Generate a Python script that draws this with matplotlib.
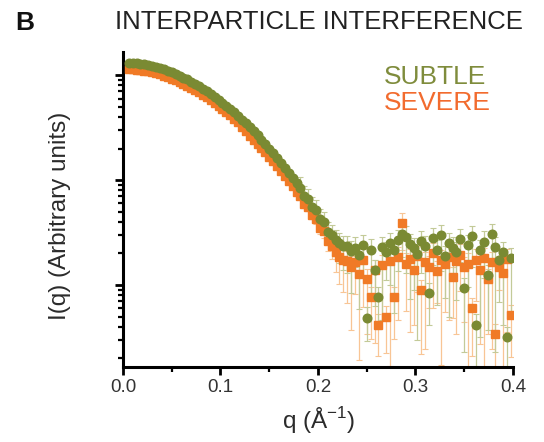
import numpy as np
import matplotlib
matplotlib.use("Agg")
from matplotlib import pyplot as plt
from matplotlib.ticker import LogLocator, MultipleLocator, NullFormatter

plt.rcParams['font.family'] = ['Liberation Sans', 'DejaVu Sans']
plt.rcParams['mathtext.fontset'] = 'custom'
plt.rcParams['mathtext.rm'] = 'Liberation Sans'

# q grid (1/A), sampled every 0.004
q = np.round(np.arange(0.006, 0.4, 0.004), 3)

# I(q) (arbitrary units, 1.0 = upper major tick)
subtle = [1.32, 1.32, 1.30, 1.29, 1.27, 1.25, 1.22, 1.20, 1.17, 1.135, 1.10, 1.066, 1.029,
          0.991, 0.951, 0.911, 0.870, 0.829, 0.787, 0.746, 0.705, 0.665, 0.625, 0.586, 0.548, 0.511,
          0.476, 0.442, 0.409, 0.377, 0.347, 0.319, 0.292, 0.267, 0.243, 0.221, 0.200, 0.181, 0.163,
          0.147, 0.1316, 0.1177, 0.105, 0.0935, 0.085, 0.071, 0.0665, 0.0555, 0.0515, 0.0425, 0.0395,
          0.0322, 0.0298, 0.0269, 0.0251, 0.0234,
          0.0235, 0.0212, 0.0228, 0.0195, 0.0240, 0.0049, 0.0218, 0.0140, 0.0077, 0.0232,
          0.0205, 0.0250, 0.0215, 0.0270, 0.0310, 0.0290, 0.0245, 0.0226, 0.0198, 0.0262,
          0.0235, 0.0084, 0.0280, 0.0215, 0.0300, 0.0190, 0.0250, 0.0228, 0.0205, 0.0275,
          0.0093, 0.0240, 0.0295, 0.0042, 0.0215, 0.0260, 0.0125, 0.0305, 0.0230, 0.0172,
          0.0208, 0.0032, 0.0180]
severe = [1.15, 1.15, 1.13, 1.12, 1.106, 1.089, 1.063, 1.045, 1.019, 0.989, 0.958, 0.929, 0.896,
          0.863, 0.828, 0.793, 0.758, 0.722, 0.685, 0.650, 0.614, 0.579, 0.544, 0.510, 0.477, 0.445,
          0.415, 0.385, 0.356, 0.324, 0.295, 0.265, 0.243, 0.222, 0.202, 0.184, 0.166, 0.151, 0.136,
          0.122, 0.1095, 0.098, 0.0874, 0.0778, 0.0705, 0.059, 0.0552, 0.0462, 0.0425, 0.0352, 0.0328,
          0.0262, 0.0236, 0.0205, 0.0185, 0.0172,
          0.0170, 0.0150, 0.0165, 0.0128, 0.0175, 0.0115, 0.0077, 0.0140, 0.0042, 0.0155,
          0.0050, 0.0168, 0.0077, 0.0185, 0.0390, 0.0160, 0.0178, 0.0140, 0.0190, 0.0089,
          0.0165, 0.0150, 0.0200, 0.0135, 0.0172, 0.0158, 0.0185, 0.0120, 0.0170, 0.0195,
          0.0148, 0.0160, 0.0060, 0.0175, 0.0138, 0.0182, 0.0115, 0.0165, 0.0034, 0.0150,
          0.0130, 0.0178, 0.0052]

# relative lower error bars, from point 44 (q = 0.182) on
subtle_lo = [0.05, 0.06, 0.06, 0.08, 0.08, 0.10, 0.10, 0.15, 0.20, 0.30, 0.35, 0.40,
             0.45, 0.60, 0.35, 0.70, 0.50, 0.40, 0.65, 0.55, 0.50, 0.80,
             0.45, 0.60, 0.75, 0.50, 0.40, 0.55, 0.70, 0.60, 0.85, 0.50,
             0.65, 0.50, 0.45, 0.70, 0.55, 0.60, 0.80, 0.50, 0.65, 0.40,
             0.75, 0.60, 0.50, 0.60, 0.85, 0.55, 0.70, 0.45, 0.90, 0.60,
             0.80, 0.50, 0.70]
severe_lo = [0.05, 0.06, 0.08, 0.08, 0.10, 0.12, 0.15, 0.20, 0.25, 0.35, 0.45, 0.50,
             0.60, 0.75, 0.50, 0.85, 0.65, 0.70, 0.60, 0.80, 0.50, 0.70,
             0.55, 0.90, 0.60, 0.75, 0.45, 0.65, 0.80, 0.70, 0.55, 0.75,
             0.85, 0.60, 0.70, 0.50, 0.90, 0.65, 0.75, 0.60, 0.80, 0.55,
             0.70, 0.95, 0.65, 0.60, 0.80, 0.99, 0.70, 0.85, 0.75, 0.40,
             0.99, 0.80, 0.60]
hi_frac = 0.25
err_start = 44

green = '#7a8a33'
orange = '#f07a26'

fig = plt.figure(figsize=(5.44, 4.42), dpi=100)
ax = fig.add_axes([0.226, 0.170, 0.717, 0.712])


def draw(I, lo_rel, color, ecolor, marker, ms):
    I = np.array(I)
    rel = np.r_[np.zeros(err_start), lo_rel]
    lo = I * rel
    hi = I * np.where(rel > 0, hi_frac, 0)
    ax.errorbar(q, I, yerr=[lo, hi], fmt='none', ecolor=ecolor, elinewidth=0.9,
                capsize=2, capthick=0.8, zorder=2)
    ax.plot(q, I, ls='none', marker=marker, ms=ms, color=color, mec=color, zorder=3)


draw(severe, severe_lo, orange, '#f8c595', 's', 5.4)
draw(subtle, subtle_lo, green, '#c3ca98', 'o', 6.2)

ax.set_yscale('log')
ax.set_xlim(0, 0.4)
ax.set_ylim(1.66e-3, 1.66)
ax.set_xticks([0, 0.1, 0.2, 0.3, 0.4])
ax.set_xticklabels(['0.0', '0.1', '0.2', '0.3', '0.4'])
ax.xaxis.set_minor_locator(MultipleLocator(0.05))
ax.yaxis.set_major_locator(LogLocator(base=10))
ax.yaxis.set_minor_locator(LogLocator(base=10, subs=np.arange(2, 10)))
ax.yaxis.set_major_formatter(NullFormatter())
ax.yaxis.set_minor_formatter(NullFormatter())

for s in ['top', 'right']:
    ax.spines[s].set_visible(False)
for s in ['left', 'bottom']:
    ax.spines[s].set_linewidth(2.2)
ax.tick_params(which='major', length=6, width=2, direction='out', labelsize=13.5,
               labelcolor='#333333', pad=3)
ax.tick_params(which='minor', length=3.5, width=1.6, direction='out')

fig.text(0.110, 0.511, 'I(q) (Arbitrary units)', rotation=90, ha='center', va='center',
         fontsize=17.5, color='#2b2b2b')
fig.text(0.585, 0.048, 'q (Å$^{-1}$)', ha='center', va='center', fontsize=17.5, color='#2b2b2b')
fig.text(0.586, 0.950, 'INTERPARTICLE INTERFERENCE', ha='center', va='center',
         fontsize=18.5, color='#222222')
fig.text(0.028, 0.948, 'B', ha='left', va='center', fontsize=19, fontweight='bold',
         color='#111111')
fig.text(0.706, 0.826, 'SUBTLE', ha='left', va='center', fontsize=19, color='#7f8c3c')
fig.text(0.706, 0.767, 'SEVERE', ha='left', va='center', fontsize=19, color='#f26b2e')

fig.savefig('out.png', dpi=100)
